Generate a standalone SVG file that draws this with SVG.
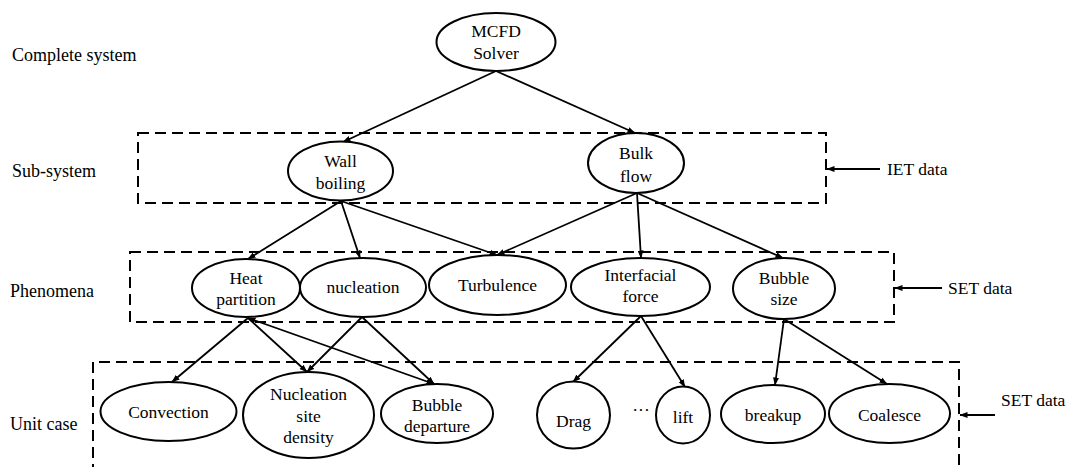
<svg xmlns="http://www.w3.org/2000/svg" width="1071" height="467" viewBox="0 0 1071 467">
  <defs>
    <marker id="arrow" markerWidth="8" markerHeight="6" refX="7.5" refY="3" orient="auto" markerUnits="userSpaceOnUse">
      <path d="M0,0 L8,3 L0,6 Z" fill="#000"/>
    </marker>
    <marker id="arrowStart" markerWidth="8" markerHeight="6" refX="0.5" refY="3" orient="auto" markerUnits="userSpaceOnUse">
      <path d="M8,0 L0,3 L8,6 Z" fill="#000"/>
    </marker>
  </defs>
  <style>
    text { font-family: "Liberation Serif", "Times New Roman", serif; font-size: 17.5px; fill: #000; }
    .label { font-size: 18px; }
    .node ellipse { fill: #fff; stroke: #000; stroke-width: 2; }
    .node text { text-anchor: middle; }
    .box { fill: none; stroke: #000; stroke-width: 2; stroke-dasharray: 11 6; }
    .edge { fill: none; stroke: #000; stroke-width: 1.8; marker-end: url(#arrow); }
    .pointer { fill: none; stroke: #000; stroke-width: 1.8; marker-end: url(#arrow); }
  </style>

  <rect width="1071" height="467" fill="#fff"/>

  <!-- level labels -->
  <g id="level-labels">
    <text class="label" x="12" y="61">Complete system</text>
    <text class="label" x="12" y="177">Sub-system</text>
    <text class="label" x="10" y="297">Phenomena</text>
    <text class="label" x="10" y="430">Unit case</text>
  </g>

  <!-- dashed grouping boxes with data callouts -->
  <g id="boxes">
    <rect class="box" x="138" y="133" width="688" height="70"/>
    <rect class="box" x="130" y="252" width="764" height="70"/>
    <path class="box" d="M93,475 L93,362 L959,362 L959,475"/>
  </g>

  <g id="callouts">
    <line class="pointer" x1="880" y1="169" x2="827" y2="169"/>
    <text x="887" y="175">IET data</text>
    <line class="pointer" x1="942" y1="288" x2="895" y2="288"/>
    <text x="948" y="294">SET data</text>
    <line class="pointer" x1="995" y1="415" x2="960" y2="415"/>
    <text x="1001" y="406">SET data</text>
  </g>

  <!-- connectors -->
  <g id="connectors">
    <line class="edge" x1="496" y1="71" x2="343" y2="142"/>
    <line class="edge" x1="496" y1="71" x2="635" y2="133"/>

    <line class="edge" x1="341" y1="201" x2="248" y2="259"/>
    <line class="edge" x1="341" y1="201" x2="360" y2="258"/>
    <line class="edge" x1="341" y1="201" x2="497" y2="255"/>
    <line class="edge" x1="637" y1="193" x2="497" y2="255"/>
    <line class="edge" x1="637" y1="193" x2="641" y2="258"/>
    <line class="edge" x1="637" y1="193" x2="783" y2="258"/>

    <line class="edge" x1="248" y1="318" x2="172" y2="382"/>
    <line class="edge" x1="248" y1="318" x2="307" y2="372"/>
    <line class="edge" x1="248" y1="318" x2="434" y2="384" style="marker-start: url(#arrowStart)"/>
    <line class="edge" x1="362" y1="317" x2="307" y2="372"/>
    <line class="edge" x1="362" y1="317" x2="434" y2="384"/>

    <line class="edge" x1="641" y1="316" x2="573" y2="382"/>
    <line class="edge" x1="641" y1="316" x2="685" y2="387"/>
    <line class="edge" x1="784" y1="319" x2="775" y2="385"/>
    <line class="edge" x1="784" y1="319" x2="887" y2="384"/>
  </g>

  <!-- complete system -->
  <g id="mcfd-solver" class="node">
    <ellipse cx="496" cy="42" rx="59.5" ry="29"/>
    <text x="496" y="37">MCFD</text>
    <text x="496" y="59">Solver</text>
  </g>

  <!-- sub-systems -->
  <g id="wall-boiling" class="node">
    <ellipse cx="340.5" cy="171" rx="52.5" ry="29.5"/>
    <text x="340.5" y="167">Wall</text>
    <text x="340.5" y="189">boiling</text>
  </g>
  <g id="bulk-flow" class="node">
    <ellipse cx="636" cy="163" rx="48" ry="30"/>
    <text x="636" y="159">Bulk</text>
    <text x="636" y="182">flow</text>
  </g>

  <!-- phenomena -->
  <g id="heat-partition" class="node">
    <ellipse cx="246" cy="288" rx="54" ry="29"/>
    <text x="246" y="284">Heat</text>
    <text x="246" y="305">partition</text>
  </g>
  <g id="nucleation" class="node">
    <ellipse cx="363" cy="287.5" rx="63" ry="29.5"/>
    <text x="363" y="293">nucleation</text>
  </g>
  <g id="turbulence" class="node">
    <ellipse cx="497.5" cy="285" rx="68.5" ry="30"/>
    <text x="497.5" y="291">Turbulence</text>
  </g>
  <g id="interfacial-force" class="node">
    <ellipse cx="640.5" cy="287" rx="69.5" ry="29"/>
    <text x="640.5" y="281">Interfacial</text>
    <text x="640.5" y="302">force</text>
  </g>
  <g id="bubble-size" class="node">
    <ellipse cx="784" cy="288.5" rx="51" ry="30.5"/>
    <text x="784" y="284">Bubble</text>
    <text x="784" y="305">size</text>
  </g>

  <!-- unit cases -->
  <g id="convection" class="node">
    <ellipse cx="168.5" cy="411.5" rx="68" ry="29.5"/>
    <text x="168.5" y="418">Convection</text>
  </g>
  <g id="nucleation-site-density" class="node">
    <ellipse cx="308.5" cy="415" rx="65.5" ry="43"/>
    <text x="308.5" y="400">Nucleation</text>
    <text x="308.5" y="422">site</text>
    <text x="308.5" y="443">density</text>
  </g>
  <g id="bubble-departure" class="node">
    <ellipse cx="437" cy="413.5" rx="56" ry="29.5"/>
    <text x="437" y="411">Bubble</text>
    <text x="437" y="432">departure</text>
  </g>
  <g id="drag" class="node">
    <ellipse cx="573.5" cy="415" rx="36.5" ry="33.5"/>
    <text x="573.5" y="427">Drag</text>
  </g>
  <text id="more-forces" x="641" y="416" text-anchor="middle">···</text>
  <g id="lift" class="node">
    <ellipse cx="683" cy="415" rx="27" ry="28.5"/>
    <text x="683" y="423">lift</text>
  </g>
  <g id="breakup" class="node">
    <ellipse cx="773" cy="414" rx="52" ry="29"/>
    <text x="773" y="421">breakup</text>
  </g>
  <g id="coalesce" class="node">
    <ellipse cx="889.5" cy="413.5" rx="60.5" ry="29.5"/>
    <text x="889.5" y="421">Coalesce</text>
  </g>
</svg>
